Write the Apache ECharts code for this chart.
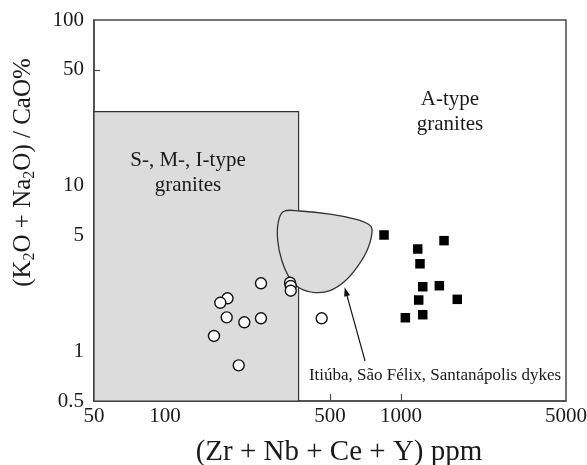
<!DOCTYPE html>
<html>
<head>
<meta charset="utf-8">
<script src="https://cdn.jsdelivr.net/npm/echarts@6/dist/echarts.min.js"></script>
<style>
  html, body { margin: 0; padding: 0; background: #fff; }
  #chart { width: 587px; height: 465px; }
</style>
</head>
<body>
<div id="chart"></div>
<script>
// Zr+Nb+Ce+Y (ppm) vs (K2O+Na2O)/CaO discrimination diagram

// Tick values of both log axes
const xLabelValues = [50, 100, 500, 1000, 5000];
const xTickValues = [100, 500, 1000];
const yLabelValues = [0.5, 1, 5, 10, 50, 100];
const yTickValues = [1, 5, 10, 50];

// S-, M-, I-type field: [xMin, yMin, xMax, yMax]
const fieldSMI = [50, 0.5, 368, 28];

// Outline of the Itiúba / São Félix / Santanápolis dykes field
const dykeFieldX = [302, 318, 373, 500, 639, 725, 754, 725, 657, 579, 500, 432, 373, 337, 312, 300];
const dykeFieldY = [6.03, 6.97, 7.02, 6.73, 6.28, 5.86, 5.39, 4.20, 3.27, 2.65, 2.32, 2.26, 2.40, 2.77, 3.55, 4.69];

// Open circles
const circleX = [255, 184, 171.5, 182.5, 216.7, 255, 161.2, 205.2, 338.5, 340.9, 340.9, 461];
const circleY = [2.57, 2.085, 1.96, 1.60, 1.494, 1.579, 1.235, 0.821, 2.59, 2.475, 2.318, 1.579];

// Filled squares
const squareX = [847, 1521, 1177, 1203, 1236, 1453, 1188, 1731, 1043, 1236];
const squareY = [5.03, 4.65, 4.14, 3.37, 2.45, 2.485, 2.036, 2.056, 1.592, 1.66];

// Pointer from the field label to the field outline: [tail, head]
const pointerX = [704, 577];
const pointerY = [0.872, 2.43];

const serif = '"Liberation Serif", "DejaVu Serif", serif';
const ink = '#1a1a1a';
const frame = '#4a4a4a';

const zip = (xs, ys) => xs.map((x, i) => [x, ys[i]]);
const fmt = v => String(+(+v).toPrecision(3));

const chart = echarts.init(document.getElementById('chart'), null, { renderer: 'canvas' });

chart.setOption({
  animation: false,
  backgroundColor: '#fff',
  grid: {
    left: 94, right: 21, top: 20, bottom: 64,
    containLabel: false, outerBoundsMode: 'none',
    show: true, borderColor: frame, borderWidth: 1.5, backgroundColor: 'transparent'
  },
  xAxis: {
    type: 'log', logBase: 10, min: 50, max: 5000,
    name: '(Zr + Nb + Ce + Y) ppm',
    nameLocation: 'middle', nameGap: 37,
    nameTextStyle: { fontFamily: serif, fontSize: 29, color: ink, padding: [0, 0, 0, 18] },
    axisLine: { show: true, lineStyle: { color: frame, width: 1.5 } },
    axisTick: { show: true, inside: true, length: 7, customValues: xTickValues, lineStyle: { color: frame, width: 1.2 } },
    axisLabel: { customValues: xLabelValues, formatter: fmt, fontFamily: serif, fontSize: 21, color: ink, margin: 5 },
    splitLine: { show: false },
    minorTick: { show: false }
  },
  yAxis: {
    type: 'log', logBase: 10, min: 0.5, max: 100,
    name: '{p|(K}{s|2}{p|O + Na}{s|2}{p|O) / CaO%}',
    nameLocation: 'middle', nameGap: 56, nameRotate: 90,
    nameTextStyle: {
      color: ink,
      padding: [0, 0, 0, 76],
      rich: {
        p: { fontFamily: serif, fontSize: 25, color: ink, lineHeight: 30 },
        s: { fontFamily: serif, fontSize: 16, color: ink, lineHeight: 16, verticalAlign: 'bottom' }
      }
    },
    axisLine: { show: true, lineStyle: { color: frame, width: 1.5 } },
    axisTick: { show: true, inside: true, length: 6, customValues: yTickValues, lineStyle: { color: frame, width: 1.2 } },
    axisLabel: { customValues: yLabelValues, formatter: fmt, fontFamily: serif, fontSize: 21, color: ink, margin: 10 },
    splitLine: { show: false },
    minorTick: { show: false }
  },
  series: [
    {
      // shaded S-, M-, I-type field
      type: 'custom', z: 1, silent: true,
      data: [fieldSMI],
      encode: { x: [0, 2], y: [1, 3] },
      renderItem: (params, api) => {
        const p0 = api.coord([api.value(0), api.value(1)]);
        const p1 = api.coord([api.value(2), api.value(3)]);
        return {
          type: 'rect',
          shape: { x: p0[0], y: p1[1], width: p1[0] - p0[0], height: p0[1] - p1[1] },
          style: { fill: '#dcdcdc', stroke: '#333', lineWidth: 1.2 }
        };
      }
    },
    {
      // dyke field outline
      type: 'custom', z: 2, silent: true,
      data: zip(dykeFieldX, dykeFieldY),
      renderItem: (params, api) => {
        if (params.dataIndex !== 0) return null;
        const pts = dykeFieldX.map((x, i) => api.coord([x, dykeFieldY[i]]));
        return {
          type: 'polygon',
          shape: { points: pts, smooth: 0.4 },
          style: { fill: '#dcdcdc', stroke: '#333', lineWidth: 1.3 }
        };
      }
    },
    {
      type: 'scatter', z: 3, silent: true,
      data: zip(circleX, circleY),
      symbol: 'circle', symbolSize: 11,
      itemStyle: { color: '#fff', borderColor: '#111', borderWidth: 1.4, opacity: 1 }
    },
    {
      type: 'scatter', z: 3, silent: true,
      data: zip(squareX, squareY),
      symbol: 'rect', symbolSize: 9.5,
      itemStyle: { color: '#000', opacity: 1 }
    },
    {
      // label pointer
      type: 'custom', z: 4, silent: true,
      data: [[pointerX[0], pointerY[0], pointerX[1], pointerY[1]]],
      encode: { x: [0, 2], y: [1, 3] },
      renderItem: (params, api) => {
        const a = api.coord([api.value(0), api.value(1)]);
        const b = api.coord([api.value(2), api.value(3)]);
        const dx = b[0] - a[0], dy = b[1] - a[1];
        const len = Math.hypot(dx, dy);
        const ux = dx / len, uy = dy / len;
        const hl = 9, hw = 3;
        const base = [b[0] - ux * hl, b[1] - uy * hl];
        return {
          type: 'group',
          children: [
            { type: 'line', shape: { x1: a[0], y1: a[1], x2: base[0], y2: base[1] }, style: { stroke: '#111', lineWidth: 1.1 } },
            { type: 'polygon', shape: { points: [b, [base[0] - uy * hw, base[1] + ux * hw], [base[0] + uy * hw, base[1] - ux * hw]] }, style: { fill: '#111' } }
          ]
        };
      }
    }
  ],
  graphic: [
    { type: 'text', x: 188, y: 160, style: { text: 'S-, M-, I-type', font: '21px ' + serif, fill: ink, align: 'center', verticalAlign: 'middle' }, z: 10 },
    { type: 'text', x: 188, y: 185, style: { text: 'granites', font: '21px ' + serif, fill: ink, align: 'center', verticalAlign: 'middle' }, z: 10 },
    { type: 'text', x: 450, y: 99, style: { text: 'A-type', font: '21px ' + serif, fill: ink, align: 'center', verticalAlign: 'middle' }, z: 10 },
    { type: 'text', x: 450, y: 124, style: { text: 'granites', font: '21px ' + serif, fill: ink, align: 'center', verticalAlign: 'middle' }, z: 10 },
    { type: 'text', x: 435, y: 376, style: { text: 'Itiúba, São Félix, Santanápolis dykes', font: '17px ' + serif, fill: ink, align: 'center', verticalAlign: 'middle' }, z: 10 }
  ]
});
</script>
</body>
</html>
